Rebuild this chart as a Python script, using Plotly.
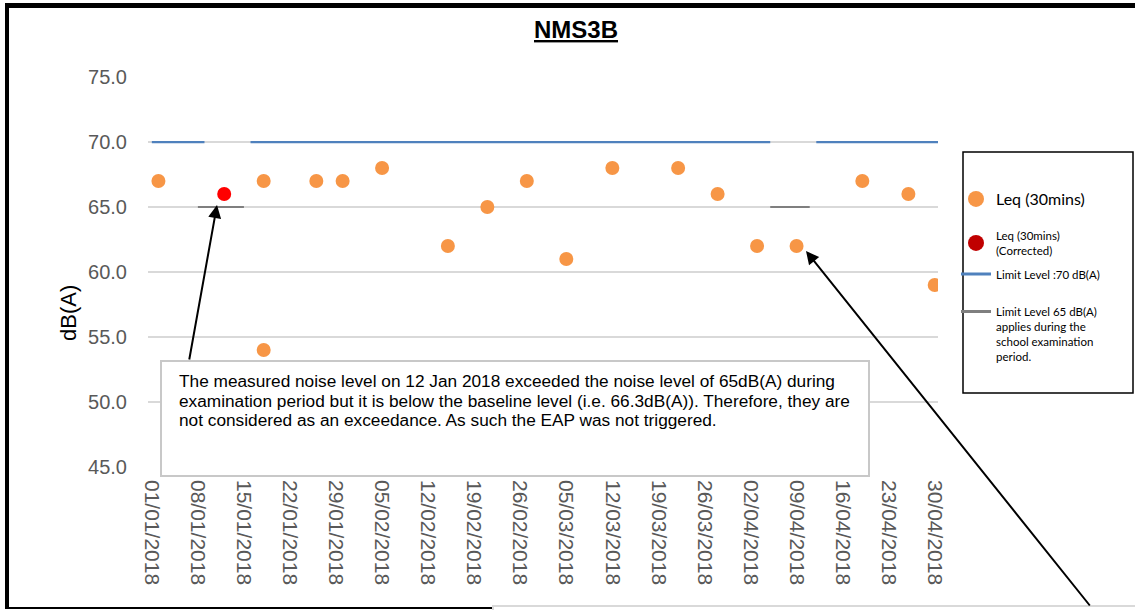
import plotly.graph_objects as go

# ---------------- data ----------------
leq_dates = ["2018-01-02", "2018-01-18", "2018-01-18", "2018-01-26", "2018-01-30",
             "2018-02-05", "2018-02-15", "2018-02-21", "2018-02-27", "2018-03-05",
             "2018-03-12", "2018-03-22", "2018-03-28", "2018-04-03", "2018-04-09",
             "2018-04-19", "2018-04-26", "2018-04-30"]
leq_values = [67, 67, 54, 67, 67, 68, 62, 65, 67, 61, 68, 68, 66, 62, 62, 67, 66, 59]

corrected_dates = ["2018-01-12"]
corrected_values = [66]

limit70_dates = ["2018-01-01", "2018-01-09", None, "2018-01-16", "2018-04-05", None,
                 "2018-04-12", "2018-05-03"]
limit70_values = [70, 70, None, 70, 70, None, 70, 70]

limit65_dates = ["2018-01-08", "2018-01-15", None, "2018-04-05", "2018-04-11"]
limit65_values = [65, 65, None, 65, 65]

tick_dates = ["2018-01-01", "2018-01-08", "2018-01-15", "2018-01-22", "2018-01-29",
              "2018-02-05", "2018-02-12", "2018-02-19", "2018-02-26", "2018-03-05",
              "2018-03-12", "2018-03-19", "2018-03-26", "2018-04-02", "2018-04-09",
              "2018-04-16", "2018-04-23", "2018-04-30"]
tick_labels = ["01/01/2018", "08/01/2018", "15/01/2018", "22/01/2018", "29/01/2018",
               "05/02/2018", "12/02/2018", "19/02/2018", "26/02/2018", "05/03/2018",
               "12/03/2018", "19/03/2018", "26/03/2018", "02/04/2018", "09/04/2018",
               "16/04/2018", "23/04/2018", "30/04/2018"]

y_ticks = [45, 50, 55, 60, 65, 70, 75]

note_lines = [
    "The measured noise level on 12 Jan 2018 exceeded the noise level of 65dB(A) during",
    "examination period but it is below the baseline level (i.e. 66.3dB(A)). Therefore, they are",
    "not considered as an exceedance. As such the EAP was not triggered.",
]

# ---------------- layout helpers (pixel -> paper) ----------------
W, H = 1135, 610
L, R, T, B = 148, 938, 77, 467


def px(x):
    return (x - L) / (R - L)


def py(y):
    return (B - y) / (B - T)


ORANGE = "#f79646"
BLUE = "#4f81bd"
GREY = "#7f7f7f"
TICK = "#595959"
FONT = "Liberation Sans, Arial, sans-serif"
LFONT = "Lato, Carlito, sans-serif"

fig = go.Figure()

fig.add_trace(go.Scatter(
    x=limit70_dates, y=limit70_values, mode="lines",
    line=dict(color=BLUE, width=2.25), connectgaps=False, showlegend=False,
    hoverinfo="skip"))
fig.add_trace(go.Scatter(
    x=limit65_dates, y=limit65_values, mode="lines",
    line=dict(color=GREY, width=2), connectgaps=False, showlegend=False,
    hoverinfo="skip"))
fig.add_trace(go.Scatter(
    x=leq_dates, y=leq_values, mode="markers",
    marker=dict(color=ORANGE, size=14), showlegend=False))
fig.add_trace(go.Scatter(
    x=corrected_dates, y=corrected_values, mode="markers",
    marker=dict(color="#ff0000", size=14), showlegend=False))

# legend entries (each in its own legend so the spacing can follow the reference)
fig.add_trace(go.Scatter(
    x=[None], y=[None], mode="markers", marker=dict(color=ORANGE, size=16),
    name="Leq (30mins)", legend="legend"))
fig.add_trace(go.Scatter(
    x=[None], y=[None], mode="markers", marker=dict(color="#c00000", size=16),
    name="Leq (30mins)<br>(Corrected)", legend="legend2"))
fig.add_trace(go.Scatter(
    x=[None], y=[None], mode="lines", line=dict(color=BLUE, width=3),
    name="Limit Level :70 dB(A)", legend="legend3"))
fig.add_trace(go.Scatter(
    x=[None], y=[None], mode="lines", line=dict(color=GREY, width=3),
    name="Limit Level 65 dB(A)<br>applies during the<br>school examination<br>period.",
    legend="legend4"))

shapes = [
    # note box
    dict(type="rect", xref="paper", yref="paper", x0=px(161), x1=px(869), y0=py(476), y1=py(361),
         fillcolor="white", line=dict(color="#c8c8c8", width=2), layer="above"),
    # second (cut-off) note box
    dict(type="rect", xref="paper", yref="paper", x0=px(493), x1=px(1140), y0=py(620), y1=py(606),
         fillcolor="white", line=dict(color="#d9d9d9", width=2), layer="above"),
    # legend frame
    dict(type="rect", xref="paper", yref="paper", x0=px(963), x1=px(1133), y0=py(393), y1=py(152),
         line=dict(color="black", width=1.5), layer="above"),
    # outer frame
    dict(type="line", xref="paper", yref="paper", x0=px(7), x1=px(7), y0=py(3), y1=py(609),
         line=dict(color="black", width=4)),
    dict(type="line", xref="paper", yref="paper", x0=px(5), x1=px(1140), y0=py(5.5), y1=py(5.5),
         line=dict(color="black", width=5)),
    dict(type="line", xref="paper", yref="paper", x0=px(5), x1=px(492), y0=py(608), y1=py(608),
         line=dict(color="black", width=2)),
]

annotations = [
    dict(xref="paper", yref="paper", x=px(575.5), y=py(29), text="<b><u>NMS3B</u></b>",
         showarrow=False, font=dict(family=FONT, size=24, color="black"), xanchor="center", yanchor="middle"),
    dict(xref="paper", yref="paper", x=px(68), y=py(313), text="dB(A)", textangle=-90,
         showarrow=False, font=dict(family=FONT, size=22, color="black"), xanchor="center", yanchor="middle"),
    dict(xref="paper", yref="paper", x=px(217), y=py(205), ax=-28, ay=156, text="",
         showarrow=True, arrowhead=2, arrowsize=1.3, arrowwidth=2, arrowcolor="black", standoff=0),
    dict(xref="paper", yref="paper", x=px(806), y=py(251), ax=285, ay=356, text="",
         showarrow=True, arrowhead=2, arrowsize=1.3, arrowwidth=2, arrowcolor="black", standoff=0),
]
for line, yc in zip(note_lines, [381, 400.5, 420]):
    annotations.append(dict(xref="paper", yref="paper", x=px(177), y=py(yc), text=line,
                            showarrow=False, font=dict(family=FONT, size=17.25, color="black"),
                            xanchor="left", yanchor="middle"))

common_leg = dict(xanchor="left", yanchor="middle", bgcolor="rgba(0,0,0,0)", borderwidth=0,
                  itemclick=False, itemdoubleclick=False)

fig.update_layout(
    width=W, height=H,
    margin=dict(l=L, r=W - R, t=T, b=H - B, pad=0),
    paper_bgcolor="white", plot_bgcolor="white",
    shapes=shapes, annotations=annotations,
    showlegend=True,
    legend=dict(x=px(956), y=py(199), font=dict(family=LFONT, size=16, color="black"),
                valign="middle", **common_leg),
    legend2=dict(x=px(956), y=py(243), font=dict(family=LFONT, size=11.5, color="black"),
                 valign="middle", **common_leg),
    legend3=dict(x=px(956), y=py(274), font=dict(family=LFONT, size=11.5, color="black"),
                 valign="middle", **common_leg),
    legend4=dict(x=px(956), y=py(334), font=dict(family=LFONT, size=11.5, color="black"),
                 valign="top", **common_leg),
    xaxis=dict(type="date", range=["2017-12-31 10:00", "2018-04-30 12:00"],
               tickvals=tick_dates, ticktext=tick_labels, tickangle=90,
               showgrid=False, zeroline=False, showline=False, ticks="",
               ticklabelstandoff=12,
               tickfont=dict(family=FONT, size=21, color=TICK)),
    yaxis=dict(range=[45, 75], tickvals=y_ticks, tickformat=".1f",
               showgrid=True, gridcolor="#d9d9d9", gridwidth=1.5,
               zeroline=False, showline=False, ticks="", ticklabelstandoff=20,
               tickfont=dict(family=FONT, size=20, color=TICK)),
)

fig.write_html("out.html", config={"displayModeBar": False},
               post_script="document.body.style.margin='0';")
